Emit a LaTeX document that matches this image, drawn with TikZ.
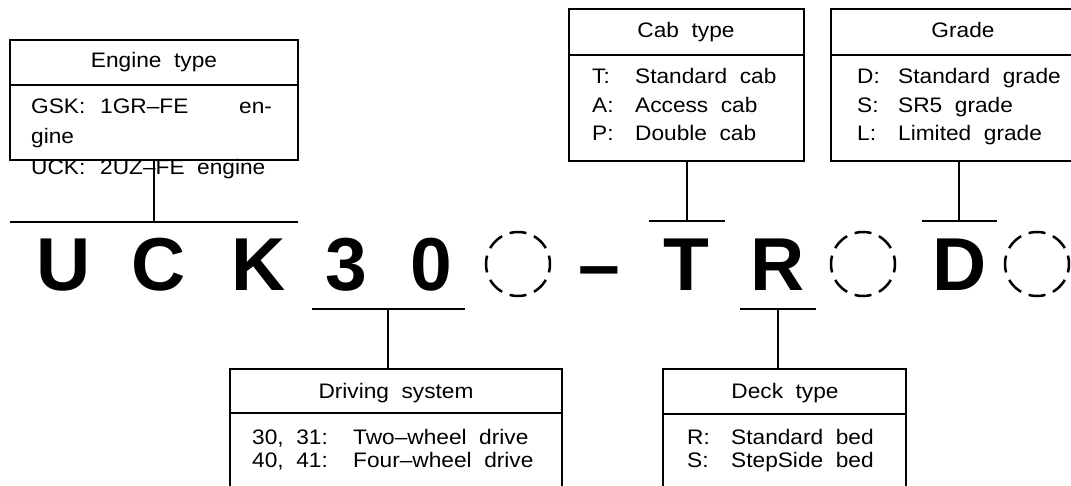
\documentclass[tikz,border=0pt]{standalone}
\usepackage{fontspec}
\setmainfont{Liberation Sans}[FakeStretch=1.08,WordSpace=2]
\newfontfamily\codefont{Liberation Sans}
\begin{document}
\begin{tikzpicture}[x=1pt,y=-1pt,
  box/.style={draw,line width=1.4pt,rectangle,inner sep=0pt},
  sep/.style={line width=1.4pt},
  conn/.style={line width=1.3pt},
  txt/.style={inner sep=0pt,font=\fontsize{21}{25}\selectfont},
  big/.style={inner sep=0pt,font=\codefont\bfseries\fontsize{75}{80}\selectfont},
  slot/.style={draw,circle,line width=2.5pt,minimum size=64pt,inner sep=0pt,
    dash pattern=on 17pt off 8.13pt,dash phase=8.5pt}]
\useasboundingbox (0,0) rectangle (1071,486);
% ---- code letters
\node[big,anchor=base] (cU) at (64,291) {U};
\node[big,anchor=base] (cC) at (159,291) {C};
\node[big,anchor=base] (cK) at (259,291) {K};
\node[big,anchor=base] (c3) at (346,291) {3};
\node[big,anchor=base] (c0) at (431,291) {0};
\node[slot] (o1) at (518,264) {};
\node[big,anchor=base] (cdash) at (599,291) {–};
\node[big,anchor=base] (cT) at (686,291) {T};
\node[big,anchor=base] (cR) at (778,291) {R};
\node[slot] (o2) at (863,264) {};
\node[big,anchor=base] (cD) at (960,291) {D};
\node[slot] (o3) at (1037,264) {};
% ---- boxes
\node[box,minimum width=288pt,minimum height=120pt] (engine) at (154,100) {};
\draw[sep] (engine.west |- 0,85) -- (engine.east |- 0,85);
\node[box,minimum width=235pt,minimum height=152pt] (cab) at (686.5,85) {};
\draw[sep] (cab.west |- 0,55) -- (cab.east |- 0,55);
\node[box,minimum width=264pt,minimum height=152pt] (grade) at (963,85) {};
\draw[sep] (grade.west |- 0,55) -- (grade.east |- 0,55);
\node[box,minimum width=332pt,minimum height=160pt] (drive) at (396,449) {};
\draw[sep] (drive.west |- 0,413) -- (drive.east |- 0,413);
\node[box,minimum width=243pt,minimum height=160pt] (deck) at (784.5,449) {};
\draw[sep] (deck.west |- 0,414) -- (deck.east |- 0,414);
% ---- titles
\node[txt,anchor=base] (engineT) at (154,68) {Engine type};
\node[txt,anchor=base] (cabT) at (686,38) {Cab type};
\node[txt,anchor=base] (gradeT) at (963,38) {Grade};
\node[txt,anchor=base] (driveT) at (396,398) {Driving system};
\node[txt,anchor=base] (deckT) at (785,398) {Deck type};
% ---- engine rows
\node[txt,anchor=base west] (e1a) at (31,114) {GSK:};
\node[txt,anchor=base west] (e1b) at (100,114) {1GR–FE};
\node[txt,anchor=base west] (e1c) at (239,114) {en-};
\node[txt,anchor=base west] (e2a) at (31,144) {gine};
\node[txt,anchor=base west] (e3a) at (31,175) {UCK:};
\node[txt,anchor=base west] (e3b) at (100,175) {2UZ–FE engine};
% ---- cab rows
\node[txt,anchor=base west] (k1a) at (592,84) {T:};
\node[txt,anchor=base west] (k1b) at (635,84) {Standard cab};
\node[txt,anchor=base west] (k2a) at (592,112.5) {A:};
\node[txt,anchor=base west] (k2b) at (635,112.5) {Access cab};
\node[txt,anchor=base west] (k3a) at (592,141) {P:};
\node[txt,anchor=base west] (k3b) at (635,141) {Double cab};
% ---- grade rows
\node[txt,anchor=base west] (g1a) at (857,84) {D:};
\node[txt,anchor=base west] (g1b) at (898,84) {Standard grade};
\node[txt,anchor=base west] (g2a) at (857,112.5) {S:};
\node[txt,anchor=base west] (g2b) at (898,112.5) {SR5 grade};
\node[txt,anchor=base west] (g3a) at (857,141) {L:};
\node[txt,anchor=base west] (g3b) at (898,141) {Limited grade};
% ---- drive rows
\node[txt,anchor=base west] (d1a) at (252,444) {30, 31:};
\node[txt,anchor=base west] (d1b) at (353,444) {Two–wheel drive};
\node[txt,anchor=base west] (d2a) at (252,467) {40, 41:};
\node[txt,anchor=base west] (d2b) at (353,467) {Four–wheel drive};
% ---- deck rows
\node[txt,anchor=base west] (b1a) at (687,444) {R:};
\node[txt,anchor=base west] (b1b) at (731,444) {Standard bed};
\node[txt,anchor=base west] (b2a) at (687,467) {S:};
\node[txt,anchor=base west] (b2b) at (731,467) {StepSide bed};
% ---- brackets
\coordinate (eL) at (10,222); \coordinate (eR) at (298,222); \coordinate (eM) at (154,222);
\draw[conn] (eL) -- (eR); \draw[conn] (engine.south) -- (eM);
\coordinate (kL) at (649,221); \coordinate (kR) at (725,221); \coordinate (kM) at (687,221);
\draw[conn] (kL) -- (kR); \draw[conn] (kM |- cab.south) -- (kM);
\coordinate (gL) at (922,221); \coordinate (gR) at (997,221); \coordinate (gM) at (959,221);
\draw[conn] (gL) -- (gR); \draw[conn] (gM |- grade.south) -- (gM);
\coordinate (dL) at (312,309); \coordinate (dR) at (465,309); \coordinate (dM) at (388,309);
\draw[conn] (dL) -- (dR); \draw[conn] (dM) -- (dM |- drive.north);
\coordinate (bL) at (740,309); \coordinate (bR) at (816,309); \coordinate (bM) at (778,309);
\draw[conn] (bL) -- (bR); \draw[conn] (bM) -- (bM |- deck.north);
\end{tikzpicture}
\end{document}
